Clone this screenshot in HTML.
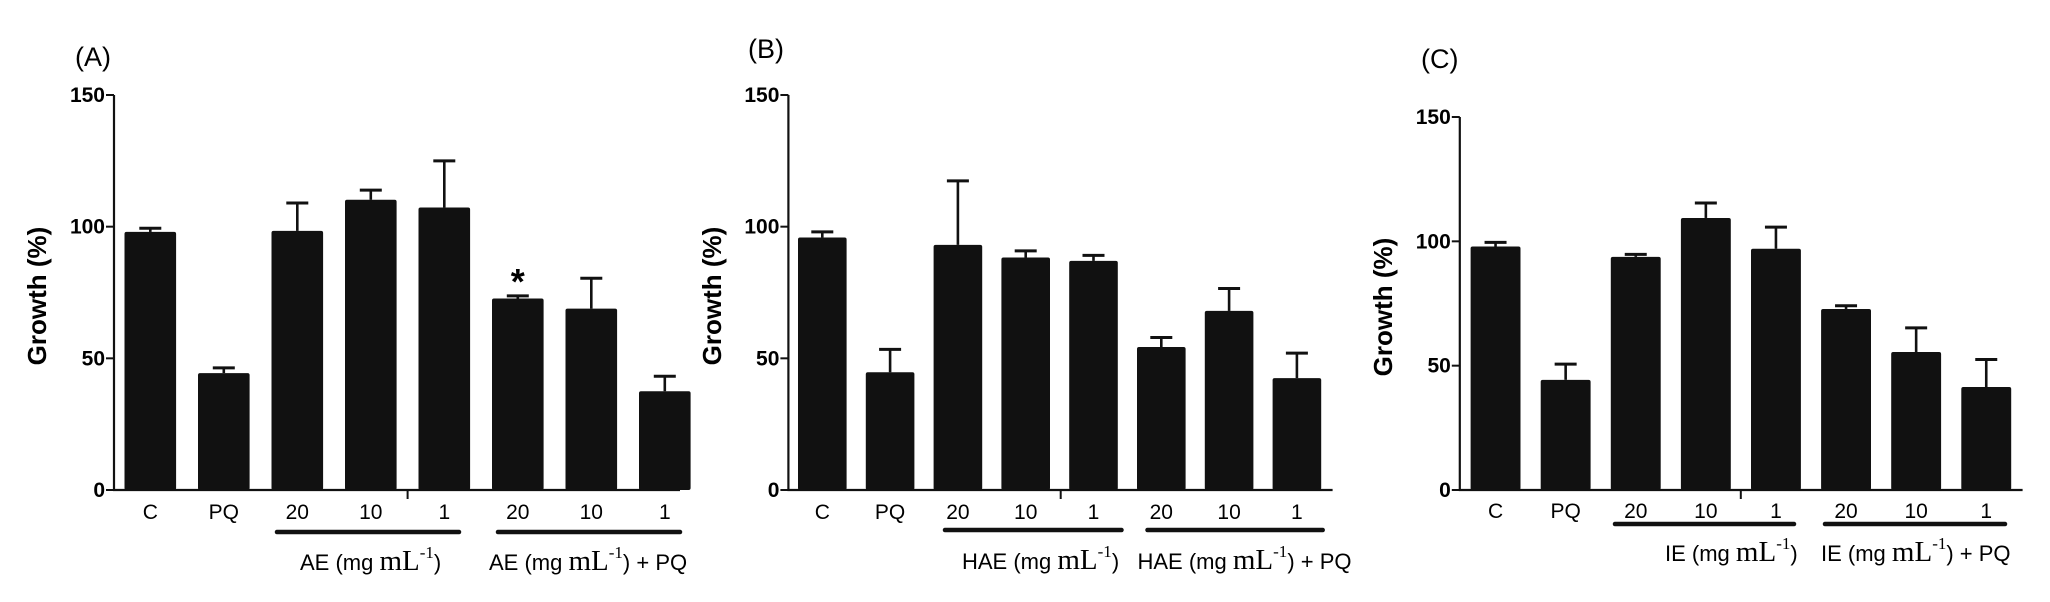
<!DOCTYPE html>
<html><head><meta charset="utf-8"><style>
body{margin:0;background:#fff;}
svg{display:block;font-family:"Liberation Sans",Arial,sans-serif;}
</style></head><body>
<svg id="fig" width="2050" height="602" viewBox="0 0 2050 602"></svg>
<script>
const categories = ["C","PQ","20","10","1","20","10","1"];
const valuesA = [98, 44.4, 98.4, 110.2, 107.3, 72.7, 68.9, 37.5];
const errorsA = [1.4, 2.0, 10.6, 3.7, 17.7, 1.0, 11.5, 5.7];
const valuesB = [95.9, 44.7, 93.1, 88.3, 87, 54.3, 68, 42.5];
const errorsB = [2.1, 8.7, 24.3, 2.5, 2.1, 3.6, 8.5, 9.5];
const valuesC = [97.9, 44.3, 93.75, 109.4, 97, 72.8, 55.5, 41.4];
const errorsC = [1.7, 6.3, 1.0, 6.0, 8.7, 1.3, 9.7, 11.1];
const yTicks = [0, 50, 100, 150];
const panelLabels = ["(A)","(B)","(C)"];
const groupPrefixes = ["AE","HAE","IE"];

const NS = "http://www.w3.org/2000/svg";
const svg = document.getElementById("fig");
function mk(tag, attrs, parent){
  const e = document.createElementNS(NS, tag);
  for (const k in attrs) e.setAttribute(k, attrs[k]);
  (parent||svg).appendChild(e);
  return e;
}
const panels = [
  {vals: valuesA, errs: errorsA, axisX:114, y0:490, y150:95, axisEnd:680, firstBar:124.5, step:73.5, bw:51.6,
   label:[75,66], title:[37,296], tick:407.6, ul1:[277,459], ul2:[498,680], ulY:532, catY:519, grpY:570, g1:300, g2:489, star:true},
  {vals: valuesB, errs: errorsB, axisX:788.4, y0:490, y150:95, axisEnd:1332.6, firstBar:798, step:67.8, bw:48.6,
   label:[748,58], title:[712,296], tick:1060.7, ul1:[945,1121.5], ul2:[1147.5,1322.7], ulY:530, catY:519, grpY:569, g1:962, g2:1137.5},
  {vals: valuesC, errs: errorsC, axisX:1459.8, y0:490, y150:117, axisEnd:2022.6, firstBar:1470.6, step:70.1, bw:49.9,
   label:[1421,68], title:[1383,307], tick:1740.8, ul1:[1615,1794], ul2:[1825,2005], ulY:524, catY:518, grpY:561, g1:1665, g2:1821}
];
panels.forEach((p, pi) => {
  const g = mk("g", {});
  
  
  const yScale = v => p.y0 - (p.y0 - p.y150) * v / 150;
  const pl = mk("text", {x:p.label[0], y:p.label[1], "font-size":27}, g);
  pl.textContent = panelLabels[pi];
  
  
  const yt = mk("text", {x:0, y:0, "font-size":26, "font-weight":"bold", "text-anchor":"middle",
    transform:`translate(${p.title[0]+9},${p.title[1]}) rotate(-90)`}, g);
  yt.textContent = "Growth (%)";
  
  
  const ya = mk("line", {x1:p.axisX, x2:p.axisX, y1:yScale(150), y2:p.y0+1, stroke:"#111", "stroke-width":2.2}, g);
  
  
  const xa = mk("line", {x1:p.axisX-1, x2:p.axisEnd, y1:p.y0, y2:p.y0, stroke:"#111", "stroke-width":2.2}, g);
  
  
  yTicks.forEach(t => {
    const y = yScale(t);
    const tl = mk("line", {x1:p.axisX-8, x2:p.axisX, y1:y, y2:y, stroke:"#111", "stroke-width":2}, g);
    
    
    const tx = mk("text", {x:p.axisX-9, y:y+7, "font-size":21, "font-weight":"bold", "text-anchor":"end"}, g);
    tx.textContent = t;
    
    
  });
  const mt = mk("line", {x1:p.tick, x2:p.tick, y1:p.y0, y2:p.y0+9, stroke:"#111", "stroke-width":2}, g);
  
  
  p.vals.forEach((v, i) => {
    const x = p.firstBar + i * p.step;
    const top = yScale(v);
    const r = mk("rect", {x:x, y:top, width:p.bw, height:p.y0-top, fill:"#111", rx:2}, g);
    
    
    const cx = x + p.bw/2;
    const et = yScale(v + p.errs[i]);
    const el = mk("line", {x1:cx, x2:cx, y1:top, y2:et, stroke:"#111", "stroke-width":2.6}, g);
    
    
    const ec = mk("line", {x1:cx-11, x2:cx+11, y1:et, y2:et, stroke:"#111", "stroke-width":3}, g);
    
    
    const cl = mk("text", {x:cx, y:p.catY, "font-size":21, "text-anchor":"middle"}, g);
    cl.textContent = categories[i];
    
    
    if (p.star && i === 5) {
      const st = mk("text", {x:cx, y:et-2, "font-size":36, "font-weight":"bold", "text-anchor":"middle"}, g);
      st.textContent = "*";
      
      
    }
  });
  [p.ul1, p.ul2].forEach(u => {
    const l = mk("line", {x1:u[0], x2:u[1], y1:p.ulY, y2:p.ulY, stroke:"#111", "stroke-width":4.5, "stroke-linecap":"round"}, g);
    
    
  });
  const pre = groupPrefixes[pi];
  [[p.g1, ""], [p.g2, " + PQ"]].forEach(([gx, suf]) => {
    const t = mk("text", {x:gx, y:p.grpY, "font-size":22}, g);
    
    
    const a = mk("tspan", {}, t); a.textContent = pre + " (mg ";
    const b = mk("tspan", {"font-family":"Liberation Serif, serif", "font-size":29}, t); b.textContent = "mL";
    const c = mk("tspan", {"font-family":"Liberation Serif, serif", "font-size":17, dy:-12}, t); c.textContent = "-1";
    const d = mk("tspan", {dy:12}, t); d.textContent = ")" + suf;
  });
});
</script>
</body></html>
